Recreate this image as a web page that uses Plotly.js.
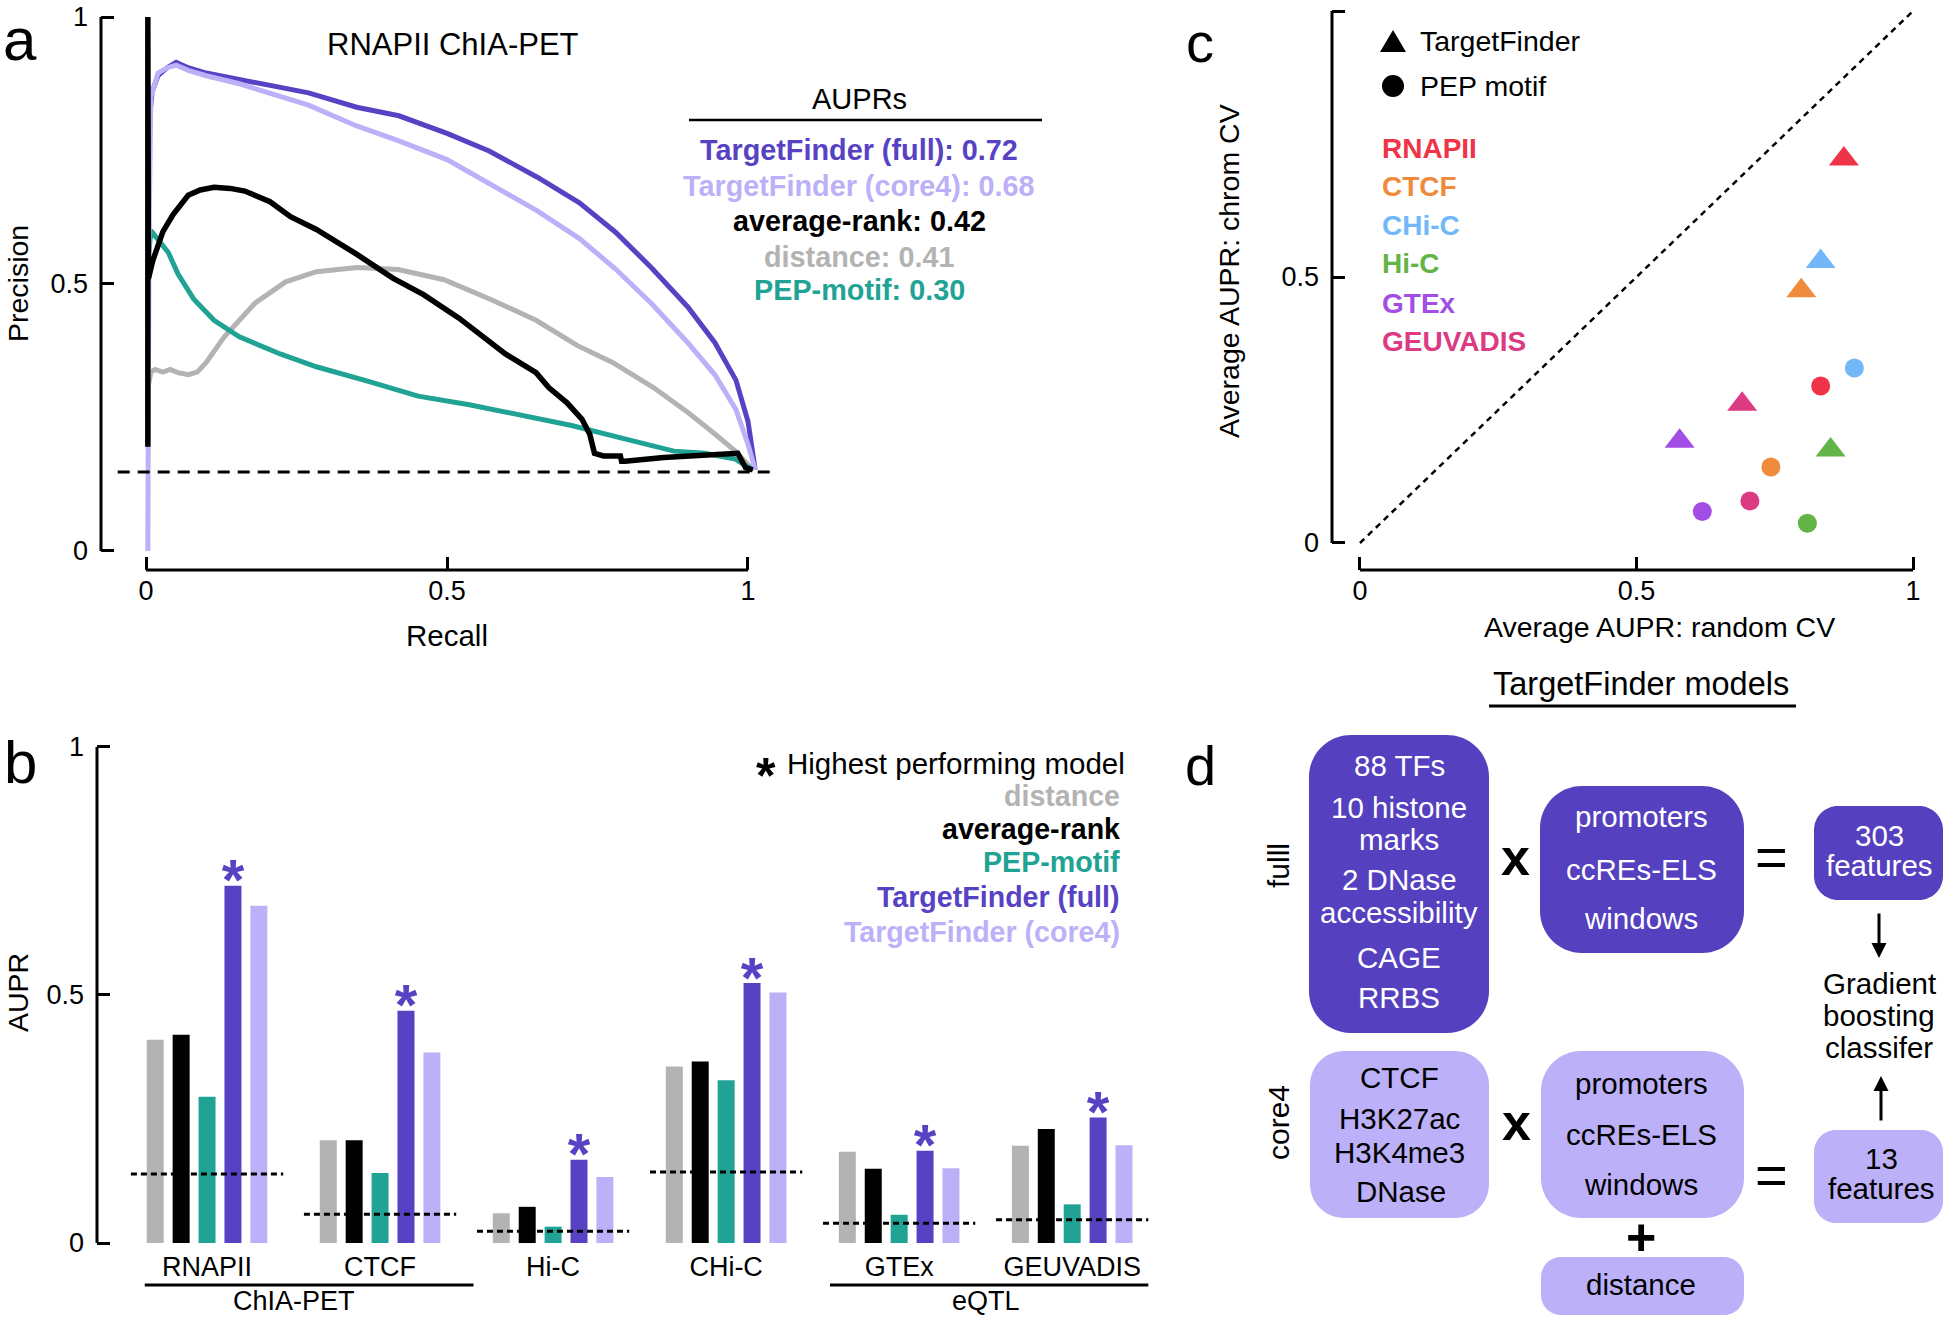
<!DOCTYPE html>
<html><head><meta charset="utf-8">
<script src="https://cdn.plot.ly/plotly-3.0.1.min.js"></script>
<style>html,body{margin:0;padding:0;background:#fff}#chart{width:1946px;height:1321px}</style>
</head><body><div id="chart"></div>
<script>
// ---------------- Panel a: precision-recall curves, RNAPII ChIA-PET ----------------
const fullRecall    = [0.005, 0.01, 0.02, 0.035, 0.05, 0.07, 0.1, 0.155, 0.215, 0.27, 0.35, 0.42, 0.5, 0.57, 0.65, 0.72, 0.78, 0.84, 0.9, 0.945, 0.98, 1.0, 1.012];
const fullPrecision = [0.80, 0.86, 0.89, 0.905, 0.915, 0.905, 0.895, 0.883, 0.871, 0.858, 0.831, 0.815, 0.782, 0.749, 0.70, 0.652, 0.597, 0.53, 0.457, 0.39, 0.32, 0.243, 0.152];
const core4Recall    = [0.003, 0.003, 0.005, 0.008, 0.02, 0.035, 0.05, 0.07, 0.1, 0.155, 0.215, 0.27, 0.35, 0.42, 0.5, 0.57, 0.65, 0.72, 0.78, 0.84, 0.9, 0.945, 0.98, 1.0, 1.012];
const core4Precision = [0.0, 0.2, 0.6, 0.85, 0.895, 0.905, 0.91, 0.9, 0.89, 0.875, 0.855, 0.835, 0.796, 0.768, 0.733, 0.689, 0.637, 0.585, 0.528, 0.463, 0.39, 0.33, 0.265, 0.2, 0.152];
const rankRecall    = [0.003, 0.003, 0.004, 0.011, 0.028, 0.045, 0.07, 0.09, 0.113, 0.14, 0.164, 0.206, 0.24, 0.283, 0.351, 0.41, 0.461, 0.52, 0.597, 0.648, 0.669, 0.699, 0.724, 0.737, 0.745, 0.76, 0.788, 0.79, 0.796, 0.86, 0.94, 0.983, 0.996, 1.008];
const rankPrecision = [0.195, 1.0, 0.51, 0.543, 0.598, 0.63, 0.666, 0.676, 0.681, 0.679, 0.674, 0.654, 0.626, 0.602, 0.555, 0.511, 0.48, 0.436, 0.369, 0.334, 0.306, 0.278, 0.247, 0.219, 0.183, 0.178, 0.178, 0.168, 0.168, 0.175, 0.18, 0.183, 0.156, 0.152];
const distRecall    = [0.004, 0.008, 0.015, 0.028, 0.04, 0.053, 0.07, 0.085, 0.1, 0.13, 0.181, 0.232, 0.283, 0.351, 0.419, 0.495, 0.571, 0.648, 0.716, 0.775, 0.843, 0.902, 0.945, 0.979, 1.008];
const distPrecision = [0.31, 0.335, 0.34, 0.335, 0.34, 0.334, 0.33, 0.335, 0.353, 0.401, 0.464, 0.504, 0.523, 0.531, 0.527, 0.508, 0.472, 0.432, 0.385, 0.353, 0.306, 0.258, 0.219, 0.187, 0.152];
const pepRecall    = [0.004, 0.008, 0.02, 0.037, 0.053, 0.079, 0.113, 0.155, 0.223, 0.283, 0.368, 0.452, 0.537, 0.622, 0.707, 0.792, 0.877, 0.928, 0.979, 1.008];
const pepPrecision = [0.55, 0.60, 0.583, 0.559, 0.519, 0.472, 0.432, 0.401, 0.369, 0.345, 0.318, 0.29, 0.274, 0.255, 0.235, 0.211, 0.187, 0.183, 0.172, 0.152];
const prBaseline = 0.148;
const prBaselineRecall = [-0.047, 1.04];

const auprNames  = ['TargetFinder (full)', 'TargetFinder (core4)', 'average-rank', 'distance', 'PEP-motif'];
const auprValues = [0.72, 0.68, 0.42, 0.41, 0.30];

// ---------------- Panel b: AUPR per dataset ----------------
const datasets      = ['RNAPII', 'CTCF', 'Hi-C', 'CHi-C', 'GTEx', 'GEUVADIS'];
const distanceAUPR  = [0.41, 0.207, 0.060, 0.356, 0.184, 0.196];
const avgRankAUPR   = [0.42, 0.207, 0.073, 0.366, 0.150, 0.230];
const pepMotifAUPR  = [0.295, 0.141, 0.033, 0.328, 0.057, 0.078];
const tfFullAUPR    = [0.72, 0.468, 0.168, 0.524, 0.186, 0.253];
const tfCore4AUPR   = [0.68, 0.384, 0.133, 0.505, 0.151, 0.197];
const baselineAUPR  = [0.139, 0.058, 0.024, 0.143, 0.040, 0.047];
const modelNames    = ['distance', 'average-rank', 'PEP-motif', 'TargetFinder (full)', 'TargetFinder (core4)'];
const groupNames = ['ChIA-PET', 'eQTL'];
const groupFirst = [0, 4];
const groupLast  = [1, 5];

// ---------------- Panel c: random CV vs chrom CV ----------------
const cvSets       = ['RNAPII', 'CTCF', 'CHi-C', 'Hi-C', 'GTEx', 'GEUVADIS'];
const tfRandomCV   = [0.875, 0.798, 0.833, 0.851, 0.578, 0.691];
const tfChromCV    = [0.722, 0.474, 0.529, 0.175, 0.191, 0.261];
const pepRandomCV  = [0.833, 0.743, 0.894, 0.809, 0.619, 0.705];
const pepChromCV   = [0.295, 0.143, 0.329, 0.037, 0.059, 0.079];

// ---------------- styles ----------------
const W = 1946, H = 1321;
const FONT = '"Liberation Sans", Arial, Helvetica, sans-serif';
const PX = v => v / W, PY = v => 1 - v / H;
const C_FULL = '#5842c4', C_CORE4 = '#bcb0f8', C_RANK = '#000000', C_DIST = '#b3b3b3', C_PEP = '#20a394';
const modelColors = [C_DIST, C_RANK, C_PEP, C_FULL, C_CORE4];
const auprColors = [C_FULL, C_CORE4, C_RANK, C_DIST, C_PEP];
const cvColors = ['#ef3447', '#f08a3c', '#72b8f8', '#62b446', '#a24ee4', '#dc3a82'];
const BOX_DARK = '#5540c0', BOX_LIGHT = '#bcb0f8';

const traces = [];
function prLine(x, y, color, width) {
  return {type: 'scatter', mode: 'lines', x, y, xaxis: 'x', yaxis: 'y',
    line: {color, width}, hoverinfo: 'skip', showlegend: false};
}
traces.push(prLine(distRecall, distPrecision, C_DIST, 5));
traces.push(prLine(pepRecall, pepPrecision, C_PEP, 5));
traces.push(prLine(fullRecall, fullPrecision, C_FULL, 5));
traces.push(prLine(core4Recall, core4Precision, C_CORE4, 5));
traces.push(prLine(rankRecall, rankPrecision, C_RANK, 5.5));
traces.push({type: 'scatter', mode: 'lines', x: prBaselineRecall, y: prBaselineRecall.map(() => prBaseline),
  xaxis: 'x', yaxis: 'y', line: {color: '#000', width: 3, dash: '12px,8px'}, hoverinfo: 'skip', showlegend: false});

// bars
const barSeries = [distanceAUPR, avgRankAUPR, pepMotifAUPR, tfFullAUPR, tfCore4AUPR];
const xIdx = datasets.map((_, i) => i);
const BARGAP = 0.2514, GROUPGAP = 0.344;
barSeries.forEach((vals, k) => {
  traces.push({type: 'bar', x: xIdx, y: vals, xaxis: 'x2', yaxis: 'y2', name: modelNames[k],
    marker: {color: modelColors[k], line: {width: 0}}, hoverinfo: 'skip', showlegend: false});
});
// chance baselines per dataset
const blx = [], bly = [];
baselineAUPR.forEach((b, i) => { blx.push(i - 0.44, i + 0.44, null); bly.push(b, b, null); });
traces.push({type: 'scatter', mode: 'lines', x: blx, y: bly, xaxis: 'x2', yaxis: 'y2',
  line: {color: '#000', width: 3, dash: '6px,4px'}, hoverinfo: 'skip', showlegend: false});
// asterisks on the highest performing model of each dataset
const groupW = 1 - BARGAP, slot = groupW / barSeries.length;
const astX = [], astY = [], astC = [];
datasets.forEach((_, i) => {
  let best = 0;
  barSeries.forEach((s, k) => { if (s[i] > barSeries[best][i]) best = k; });
  astX.push(i - groupW / 2 + (best + 0.5) * slot);
  astY.push(barSeries[best][i]);
  astC.push(modelColors[best]);
});
traces.push({type: 'scatter', mode: 'text', x: astX, y: astY, text: astX.map(() => '<b>*</b>'),
  textposition: 'middle center', textfont: {family: FONT, size: 58, color: astC},
  xaxis: 'x2', yaxis: 'y2', hoverinfo: 'skip', showlegend: false, cliponaxis: false});

// panel c
traces.push({type: 'scatter', mode: 'lines', x: [0, 1], y: [0, 1], xaxis: 'x3', yaxis: 'y3',
  line: {color: '#000', width: 2.5, dash: '6px,5px'}, hoverinfo: 'skip', showlegend: false});
traces.push({type: 'scatter', mode: 'markers', x: tfRandomCV, y: tfChromCV, xaxis: 'x3', yaxis: 'y3',
  marker: {symbol: 'triangle-up', size: 26, color: cvColors, line: {width: 0}}, hoverinfo: 'skip', showlegend: false});
traces.push({type: 'scatter', mode: 'markers', x: pepRandomCV, y: pepChromCV, xaxis: 'x3', yaxis: 'y3',
  marker: {symbol: 'circle', size: 19, color: cvColors, line: {width: 0}}, hoverinfo: 'skip', showlegend: false});

// ---------------- layout helpers ----------------
const tickFont = {family: FONT, size: 27, color: '#000'};
function axisBase(extra) {
  return Object.assign({showgrid: false, zeroline: false, showline: false, ticks: 'inside', ticklen: 13,
    tickwidth: 3, tickcolor: '#000', tickfont: tickFont, fixedrange: true}, extra);
}
function ann(text, x, y, o = {}) {
  return {text, x: PX(x), y: PY(y), xref: 'paper', yref: 'paper', showarrow: false,
    xanchor: o.xa || 'center', yanchor: o.ya || 'middle', textangle: o.angle || 0,
    font: {family: FONT, size: o.size || 28, color: o.color || '#000'}};
}
function pline(x0, y0, x1, y1, w) {
  return {type: 'line', xref: 'paper', yref: 'paper', x0: PX(x0), y0: PY(y0), x1: PX(x1), y1: PY(y1),
    line: {color: '#000', width: w}};
}
function rrect(x0, y0, x1, y1, r, color) {
  const k = 0.4477;
  const X = v => PX(v).toFixed(5), Y = v => PY(v).toFixed(5);
  const p = `M${X(x0 + r)},${Y(y0)}L${X(x1 - r)},${Y(y0)}C${X(x1 - r * k)},${Y(y0)} ${X(x1)},${Y(y0 + r * k)} ${X(x1)},${Y(y0 + r)}` +
    `L${X(x1)},${Y(y1 - r)}C${X(x1)},${Y(y1 - r * k)} ${X(x1 - r * k)},${Y(y1)} ${X(x1 - r)},${Y(y1)}` +
    `L${X(x0 + r)},${Y(y1)}C${X(x0 + r * k)},${Y(y1)} ${X(x0)},${Y(y1 - r * k)} ${X(x0)},${Y(y1 - r)}` +
    `L${X(x0)},${Y(y0 + r)}C${X(x0)},${Y(y0 + r * k)} ${X(x0 + r * k)},${Y(y0)} ${X(x0 + r)},${Y(y0)}Z`;
  return {type: 'path', xref: 'paper', yref: 'paper', path: p, fillcolor: color, line: {width: 0}, layer: 'above'};
}
const spine = {color: '#000', width: 3};

const shapes = [
  // panel a spines
  {type: 'line', xref: 'x domain', yref: 'y', x0: 0, x1: 0, y0: 0, y1: 1, line: spine},
  {type: 'line', xref: 'x', yref: 'y domain', x0: 0, x1: 1, y0: 0, y1: 0, line: spine},
  // panel b spine
  {type: 'line', xref: 'x2 domain', yref: 'y2', x0: 0, x1: 0, y0: 0, y1: 1, line: spine},
  // panel c spines
  {type: 'line', xref: 'x3 domain', yref: 'y3', x0: 0, x1: 0, y0: 0, y1: 1, line: spine},
  {type: 'line', xref: 'x3', yref: 'y3 domain', x0: 0, x1: 1, y0: 0, y1: 0, line: spine},
  // AUPRs underline
  pline(689, 120, 1042, 120, 2.5),
  // TargetFinder models underline
  pline(1489, 706, 1796, 706, 3),
];
// group underlines in panel b
const ulLeft = [0.36, 0.40], ulRight = [0.54, 0.44];
groupNames.forEach((g, j) => {
  shapes.push({type: 'line', xref: 'x2', yref: 'paper', x0: groupFirst[j] - ulLeft[j], x1: groupLast[j] + ulRight[j],
    y0: PY(1285), y1: PY(1285), line: {color: '#000', width: 3}});
});
// panel c legend symbols
shapes.push({type: 'path', xref: 'paper', yref: 'paper', fillcolor: '#000', line: {width: 0},
  path: `M${PX(1380)},${PY(52)}L${PX(1406)},${PY(52)}L${PX(1393)},${PY(30)}Z`});
shapes.push({type: 'circle', xref: 'paper', yref: 'paper', fillcolor: '#000', line: {width: 0},
  x0: PX(1382), x1: PX(1404), y0: PY(97), y1: PY(75)});
// panel d boxes
shapes.push(rrect(1309, 735, 1489, 1033, 42, BOX_DARK));
shapes.push(rrect(1540, 786, 1744, 953, 42, BOX_DARK));
shapes.push(rrect(1814, 806, 1943, 900, 24, BOX_DARK));
shapes.push(rrect(1310, 1051, 1489, 1218, 34, BOX_LIGHT));
shapes.push(rrect(1541, 1051, 1744, 1218, 40, BOX_LIGHT));
shapes.push(rrect(1541, 1257, 1744, 1315, 20, BOX_LIGHT));
shapes.push(rrect(1814, 1130, 1943, 1223, 22, BOX_LIGHT));

const annotations = [
  ann('a', 20, 40, {size: 60}), ann('b', 20, 762, {size: 60}),
  ann('c', 1200, 42, {size: 56}), ann('d', 1200, 765, {size: 56}),
  ann('RNAPII ChIA-PET', 453, 45, {size: 31}),
  ann('Precision', 18, 284, {angle: -90, size: 28.5}),
  ann('Recall', 447, 635, {size: 29.5}),
  ann('AUPRs', 859, 99, {size: 29}),
  ann('AUPR', 18, 993, {angle: -90, size: 28.5}),
  ann('Average AUPR: chrom CV', 1229, 271, {angle: -90, size: 28.5}),
  ann('Average AUPR: random CV', 1659, 627, {size: 28.5}),
  ann('TargetFinder', 1418, 41, {xa: 'left', size: 28.5}),
  ann('PEP motif', 1418, 86, {xa: 'left', size: 28.5}),
  ann('<b>*</b>', 766, 776, {size: 50}),
  ann('Highest performing model', 1127, 763, {xa: 'right', size: 29.5}),
];
const auprY = [150, 186, 221, 257, 290];
auprNames.forEach((n, i) => {
  annotations.push(ann(`<b>${n}: ${auprValues[i].toFixed(2)}</b>`, 859, auprY[i], {color: auprColors[i], size: 28.8}));
});
const legBY = [796, 829, 862, 897, 932];
modelNames.forEach((n, i) => {
  annotations.push(ann(`<b>${n}</b>`, 1122, legBY[i], {xa: 'right', color: modelColors[i], size: 28.6}));
});
const cvLabY = [148, 186, 225, 263, 303, 341];
cvSets.forEach((n, i) => {
  annotations.push(ann(`<b>${n}</b>`, 1380, cvLabY[i], {xa: 'left', color: cvColors[i]}));
});
groupNames.forEach((g, j) => {
  annotations.push({text: g, x: (groupFirst[j] + groupLast[j]) / 2, y: PY(1301), xref: 'x2', yref: 'paper',
    showarrow: false, xanchor: 'center', yanchor: 'middle', borderpad: 0, font: {family: FONT, size: 27, color: '#000'}});
});
// panel d text
const WH = '#ffffff';
const BT = 29.5;
[
  ['TargetFinder models', 1641, 684, {size: 32.5}],
  ['fulll', 1278, 866, {angle: -90, size: 30}],
  ['core4', 1278, 1123, {angle: -90, size: 30}],
  ['88 TFs', 1399, 766, {color: WH, size: BT}], ['10 histone', 1399, 807, {color: WH, size: BT}], ['marks', 1399, 839, {color: WH, size: BT}],
  ['2 DNase', 1399, 879, {color: WH, size: BT}], ['accessibility', 1399, 912, {color: WH, size: BT}],
  ['CAGE', 1399, 957, {color: WH, size: BT}], ['RRBS', 1399, 997, {color: WH, size: BT}],
  ['promoters', 1641, 817, {color: WH, size: BT}], ['ccREs-ELS', 1641, 869, {color: WH, size: BT}], ['windows', 1641, 918, {color: WH, size: BT}],
  ['303', 1879, 835, {color: WH, size: BT}], ['features', 1879, 865, {color: WH, size: BT}],
  ['Gradient', 1879, 983, {size: BT}], ['boosting', 1879, 1015, {size: BT}], ['classifer', 1879, 1047, {size: BT}],
  ['CTCF', 1399, 1077, {size: BT}], ['H3K27ac', 1399, 1118, {size: BT}], ['H3K4me3', 1399, 1152, {size: BT}], ['DNase', 1401, 1191, {size: BT}],
  ['promoters', 1641, 1083, {size: BT}], ['ccREs-ELS', 1641, 1134, {size: BT}], ['windows', 1641, 1184, {size: BT}],
  ['distance', 1641, 1284, {size: BT}],
  ['13', 1881, 1158, {size: BT}], ['features', 1881, 1188, {size: BT}],
  ['<b>x</b>', 1515, 857, {size: 52}], ['<b>x</b>', 1516, 1122, {size: 52}],
  ['=', 1771, 856, {size: 56}], ['=', 1771, 1174, {size: 56}],
  ['<b>+</b>', 1641, 1237, {size: 52}],
].forEach(t => annotations.push(ann(t[0], t[1], t[2], t[3] || {})));
// arrows
annotations.push({x: PX(1879), y: PY(958), xref: 'paper', yref: 'paper', text: '', showarrow: true,
  ax: 0, ay: -46, arrowhead: 2, arrowsize: 1, arrowwidth: 3, arrowcolor: '#000'});
annotations.push({x: PX(1881), y: PY(1076), xref: 'paper', yref: 'paper', text: '', showarrow: true,
  ax: 0, ay: 46, arrowhead: 2, arrowsize: 1, arrowwidth: 3, arrowcolor: '#000'});

const layout = {
  width: W, height: H, margin: {l: 0, r: 0, t: 0, b: 0},
  paper_bgcolor: '#fff', plot_bgcolor: 'rgba(0,0,0,0)', showlegend: false,
  barmode: 'group', bargap: BARGAP, bargroupgap: GROUPGAP,
  font: {family: FONT, color: '#000'},
  xaxis: axisBase({domain: [PX(101), PX(790)], range: [-0.0748, 1.0698], anchor: 'y', tickvals: [0, 0.5, 1], ticklabelstandoff: 2}),
  yaxis: axisBase({domain: [PY(570), PY(10)], range: [-0.0356, 1.0131], anchor: 'x', tickvals: [0, 0.5, 1], ticklabelstandoff: 12}),
  xaxis2: axisBase({domain: [PX(97), PX(1176)], range: [-0.636, 5.6], anchor: 'y2', tickvals: xIdx, ticktext: datasets, ticks: '', ticklabelstandoff: 0}),
  yaxis2: axisBase({domain: [PY(1248), PY(740)], range: [-0.01, 1.014], anchor: 'x2', tickvals: [0, 0.5, 1], ticklabelstandoff: 12}),
  xaxis3: axisBase({domain: [PX(1332), PX(1940)], range: [-0.0506, 1.0488], anchor: 'y3', tickvals: [0, 0.5, 1], ticklabelstandoff: 2}),
  yaxis3: axisBase({domain: [PY(570), PY(4)], range: [-0.0508, 1.0132], anchor: 'x3', tickvals: [0, 0.5, 1], ticklabelstandoff: 12}),
  shapes, annotations,
};
Plotly.newPlot('chart', traces, layout, {displayModeBar: false, staticPlot: true});
</script>
</body></html>
